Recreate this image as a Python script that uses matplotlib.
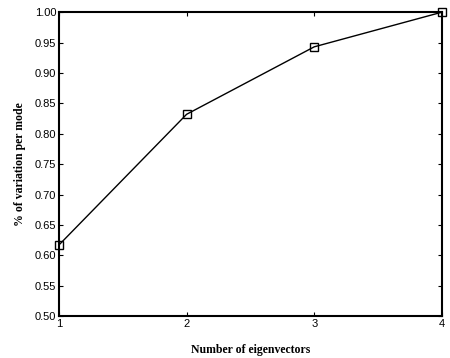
import matplotlib
matplotlib.use("Agg")
import matplotlib.pyplot as plt

eigenvectors = [1, 2, 3, 4]
variation = [0.617, 0.832, 0.943, 1.0]
yticks = [0.50, 0.55, 0.60, 0.65, 0.70, 0.75, 0.80, 0.85, 0.90, 0.95, 1.00]
xticks = [1, 2, 3, 4]

fig = plt.figure(figsize=(4.5, 3.58), dpi=100)
ax = fig.add_axes([0.131, 0.117, 0.851, 0.849])
ax.plot(eigenvectors, variation, color="black", linewidth=1.0,
        marker="s", markersize=6, markerfacecolor="none", markeredgecolor="black",
        markeredgewidth=1.0, clip_on=False)
ax.set_xlim(1, 4)
ax.set_ylim(0.5, 1.0)
ax.set_xticks(xticks)
ax.set_yticks(yticks)
ax.set_yticklabels([f"{v:.2f}" for v in yticks])
ax.tick_params(direction="in", length=3, width=0.8, labelsize=8, top=True, right=True,
               labeltop=False, labelright=False, pad=2)
for lab in ax.get_xticklabels() + ax.get_yticklabels():
    lab.set_family("Liberation Sans")
for s in ax.spines.values():
    s.set_linewidth(1.5)
ax.set_xlabel("Number of eigenvectors", family="Liberation Serif", fontweight="bold", fontsize=8.5, labelpad=11)
ax.set_ylabel("% of variation per mode", family="Liberation Serif", fontweight="bold", fontsize=8.5, labelpad=6)
fig.savefig("out.png", dpi=100)
